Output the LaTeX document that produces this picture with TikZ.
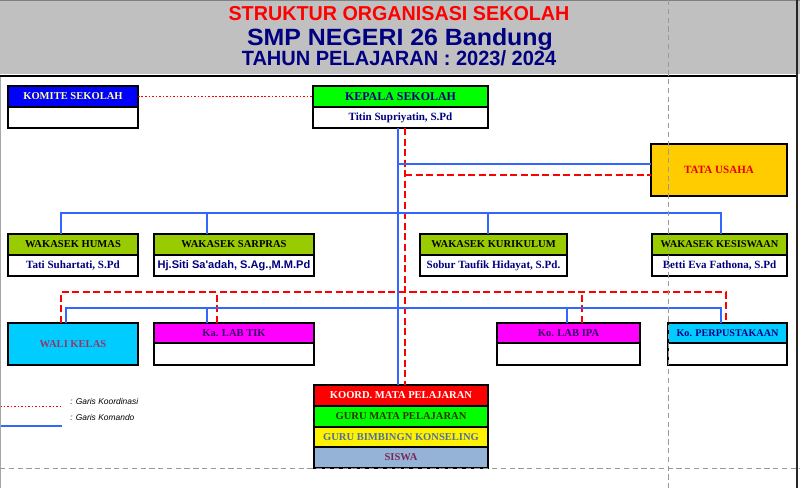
\documentclass[tikz,border=0pt]{standalone}
\usepackage{fontspec}
\setmainfont{Liberation Serif}
\newfontfamily\sansfont{Liberation Sans}
\usepackage{graphicx}
\usetikzlibrary{positioning,calc}
\definecolor{latarjudul}{RGB}{192,192,192}
\definecolor{garisbiru}{RGB}{51,102,255}
\definecolor{garismerah}{RGB}{255,0,0}
\definecolor{birutua}{RGB}{0,0,128}
\definecolor{hijau}{RGB}{0,255,0}
\definecolor{hijaupupus}{RGB}{153,204,0}
\definecolor{emas}{RGB}{255,204,0}
\definecolor{ungu}{RGB}{255,0,255}
\definecolor{langit}{RGB}{0,204,255}
\definecolor{biruabu}{RGB}{149,179,215}
\definecolor{krem}{RGB}{255,255,153}
\definecolor{marun}{RGB}{153,51,102}
\definecolor{unguTua}{RGB}{51,0,102}
\definecolor{zaitun}{RGB}{51,51,0}
\definecolor{batu}{RGB}{79,111,160}
\definecolor{merahbata}{RGB}{230,0,0}
\tikzset{kotak/.style={draw,line width=1.1pt,inner sep=0pt,outer sep=0pt,minimum height=0.42cm,
  font=\fontsize{6}{7}\selectfont\bfseries},
 judul/.style={kotak,anchor=north west},
 nama/.style={kotak,fill=white,text=birutua,font=\fontsize{6.3}{7}\selectfont\bfseries},
 komando/.style={garisbiru,line width=1pt},
 koordinasi/.style={garismerah,line width=1.1pt,dash pattern=on 4pt off 2pt},
 koordtipis/.style={garismerah,line width=0.5pt,dash pattern=on 1pt off 1pt},
 legenda/.style={anchor=west,inner sep=0pt,font=\sansfont\itshape\fontsize{4.8}{5}\selectfont},
 batashal/.style={black!40,line width=0.5pt,dash pattern=on 3pt off 2pt}}

\begin{document}
\begin{tikzpicture}[x=0.02cm,y=-0.02cm]
\useasboundingbox (0,0) rectangle (800,488);
% kepala halaman
\fill[latarjudul] (0,0) rectangle (800,74);
\draw[black!50,line width=0.8pt] (0,0.5) -- (800,0.5);
\node[anchor=base,text=garismerah] (judul1) at (399,20)
  {\resizebox{194pt}{8pt}{\sansfont\bfseries STRUKTUR ORGANISASI SEKOLAH}};
\node[anchor=base,text=birutua] (judul2) at (400,45)
  {\resizebox{174pt}{9.7pt}{\sansfont\bfseries SMP NEGERI 26 Bandung}};
\node[anchor=base,text=birutua] (judul3) at (399,65)
  {\resizebox{179pt}{8.5pt}{\sansfont\bfseries TAHUN PELAJARAN : 2023/ 2024}};
\draw[black,line width=1.4pt] (0,76) -- (797,76);

% pimpinan
\node[judul,fill=blue,text=krem,minimum width=2.6cm] (komite) at (8,86) {KOMITE SEKOLAH};
\node[nama,minimum width=2.6cm,below=0pt of komite] (komite-isi) {};
\node[judul,fill=hijau,text=birutua,minimum width=3.5cm,font=\fontsize{6.8}{7}\selectfont\bfseries] (kepsek) at (313,86) {KEPALA SEKOLAH};
\node[nama,minimum width=3.5cm,below=0pt of kepsek] (kepsek-isi) {Titin Supriyatin, S.Pd};
\node[judul,fill=emas,text=merahbata,minimum width=2.72cm,minimum height=1.04cm,font=\fontsize{6.3}{7}\selectfont\bfseries] (tu) at (651,144) {TATA USAHA};

% wakasek
\node[judul,fill=hijaupupus,minimum width=2.6cm] (humas) at (8,234) {WAKASEK HUMAS};
\node[nama,minimum width=2.6cm,below=0pt of humas] (humas-isi) {Tati Suhartati, S.Pd};
\node[judul,fill=hijaupupus,minimum width=3.2cm] (sarpras) at (154,234) {WAKASEK SARPRAS};
\node[nama,minimum width=3.2cm,below=0pt of sarpras,font=\sansfont\fontsize{6.3}{7}\selectfont\bfseries] (sarpras-isi) {Hj.Siti Sa'adah, S.Ag.,M.M.Pd};
\node[judul,fill=hijaupupus,minimum width=2.94cm] (kurikulum) at (420,234) {WAKASEK KURIKULUM};
\node[nama,minimum width=2.94cm,below=0pt of kurikulum] (kurikulum-isi) {Sobur Taufik Hidayat, S.Pd.};
\node[judul,fill=hijaupupus,minimum width=2.7cm,font=\fontsize{5.9}{7}\selectfont\bfseries] (kesiswaan) at (652,234) {WAKASEK KESISWAAN};
\node[nama,minimum width=2.7cm,below=0pt of kesiswaan] (kesiswaan-isi) {Betti Eva Fathona, S.Pd};

% unit
\node[judul,fill=langit,text=marun,minimum width=2.6cm,minimum height=0.84cm] (wali) at (8,323) {WALI KELAS};
\node[judul,fill=ungu,text=unguTua,minimum width=3.2cm,minimum height=0.4cm] (labtik) at (154,323) {Ka. LAB TIK};
\node[nama,minimum width=3.2cm,minimum height=0.44cm,below=0pt of labtik] (labtik-isi) {};
\node[judul,fill=ungu,text=unguTua,minimum width=2.86cm,minimum height=0.4cm] (labipa) at (497,323) {Ko. LAB IPA};
\node[nama,minimum width=2.86cm,minimum height=0.44cm,below=0pt of labipa] (labipa-isi) {};
\node[judul,fill=langit,text=birutua,minimum width=2.38cm,minimum height=0.4cm,font=\fontsize{5.8}{7}\selectfont\bfseries] (perpus) at (668,323) {Ko. PERPUSTAKAAN};
\node[nama,minimum width=2.38cm,minimum height=0.44cm,below=0pt of perpus] (perpus-isi) {};

% guru dan siswa
\node[judul,fill=red,text=white,minimum width=3.48cm] (koord) at (314,385) {KOORD. MATA PELAJARAN};
\node[kotak,fill=hijau,text=zaitun,minimum width=3.48cm,below=0pt of koord] (gurump) {GURU MATA PELAJARAN};
\node[kotak,fill=yellow,text=batu,minimum width=3.48cm,minimum height=0.4cm,below=0pt of gurump] (gurubk) {GURU BIMBINGN KONSELING};
\node[kotak,fill=biruabu,text=marun!80!black,minimum width=3.48cm,below=0pt of gurubk] (siswa) {SISWA};

% garis komando dan koordinasi
\draw[koordtipis] (komite.east) -- (kepsek.west);
\coordinate (bt) at ([xshift=-0.5mm]kepsek-isi.south);
\coordinate (rt) at ([xshift=0.9mm]kepsek-isi.south);
\draw[komando] (bt) -- (bt |- koord.north);
\draw[koordinasi] (rt) -- (rt |- koord.north);
\coordinate (tu-b) at ([yshift=1.2mm]tu.west);
\coordinate (tu-r) at ([yshift=-1mm]tu.west);
\draw[komando] (bt |- tu-b) -- (tu-b);
\draw[koordinasi] (rt |- tu-r) -- (tu-r);

\coordinate (w1) at ([xshift=-2.4mm]humas.north);
\coordinate (w2) at ([xshift=-5.4mm]sarpras.north);
\coordinate (w3) at ([xshift=-1.1mm]kurikulum.north);
\coordinate (w4) at ([xshift=0.3mm]kesiswaan.north);
\draw[komando] (w1) -- ++(0,-21) -| (w4);
\draw[komando] (w2) -- ++(0,-21);
\draw[komando] (w3) -- ++(0,-21);

\coordinate (k1) at ([xshift=-2.4mm]wali.north);
\coordinate (k2) at ([xshift=-3.4mm]labtik.north);
\coordinate (k3) at ([xshift=2.7mm]labipa.north);
\coordinate (k4) at ([xshift=-0.3mm]perpus.north);
\draw[koordinasi] (k1) -- ++(0,-31) -| (k4);
\draw[koordinasi] (k2) -- ++(0,-31);
\draw[koordinasi] (k3) -- ++(0,-31);

\coordinate (c1) at ([xshift=-1.4mm]wali.north);
\coordinate (c2) at ([xshift=-5.4mm]labtik.north);
\coordinate (c3) at ([xshift=-0.3mm]labipa.north);
\coordinate (c4) at ([xshift=-1.3mm]perpus.north);
\draw[komando] (c1) -- ++(0,-15) -| (c4);
\draw[komando] (c2) -- ++(0,-15);
\draw[komando] (c3) -- ++(0,-15);

% keterangan
\coordinate (lk-a) at (0,406);
\coordinate (lk-b) at (62,406);
\draw[koordtipis] (lk-a) -- (lk-b);
\node[legenda] (lk) at (70,401) {: Garis Koordinasi};
\coordinate (lm-a) at (0,426);
\coordinate (lm-b) at (62,426);
\draw[komando] (lm-a) -- (lm-b);
\node[legenda] (lm) at (70,417) {: Garis Komando};

% batas halaman
\draw[black!35,line width=0.8pt] (0.5,77) -- (0.5,488);
\draw[batashal] (668,0) -- (668,488);
\draw[batashal] (0,468) -- (800,468);
\draw[black!85,line width=0.9pt] (797,0) -- (797,488);
\end{tikzpicture}
\end{document}
